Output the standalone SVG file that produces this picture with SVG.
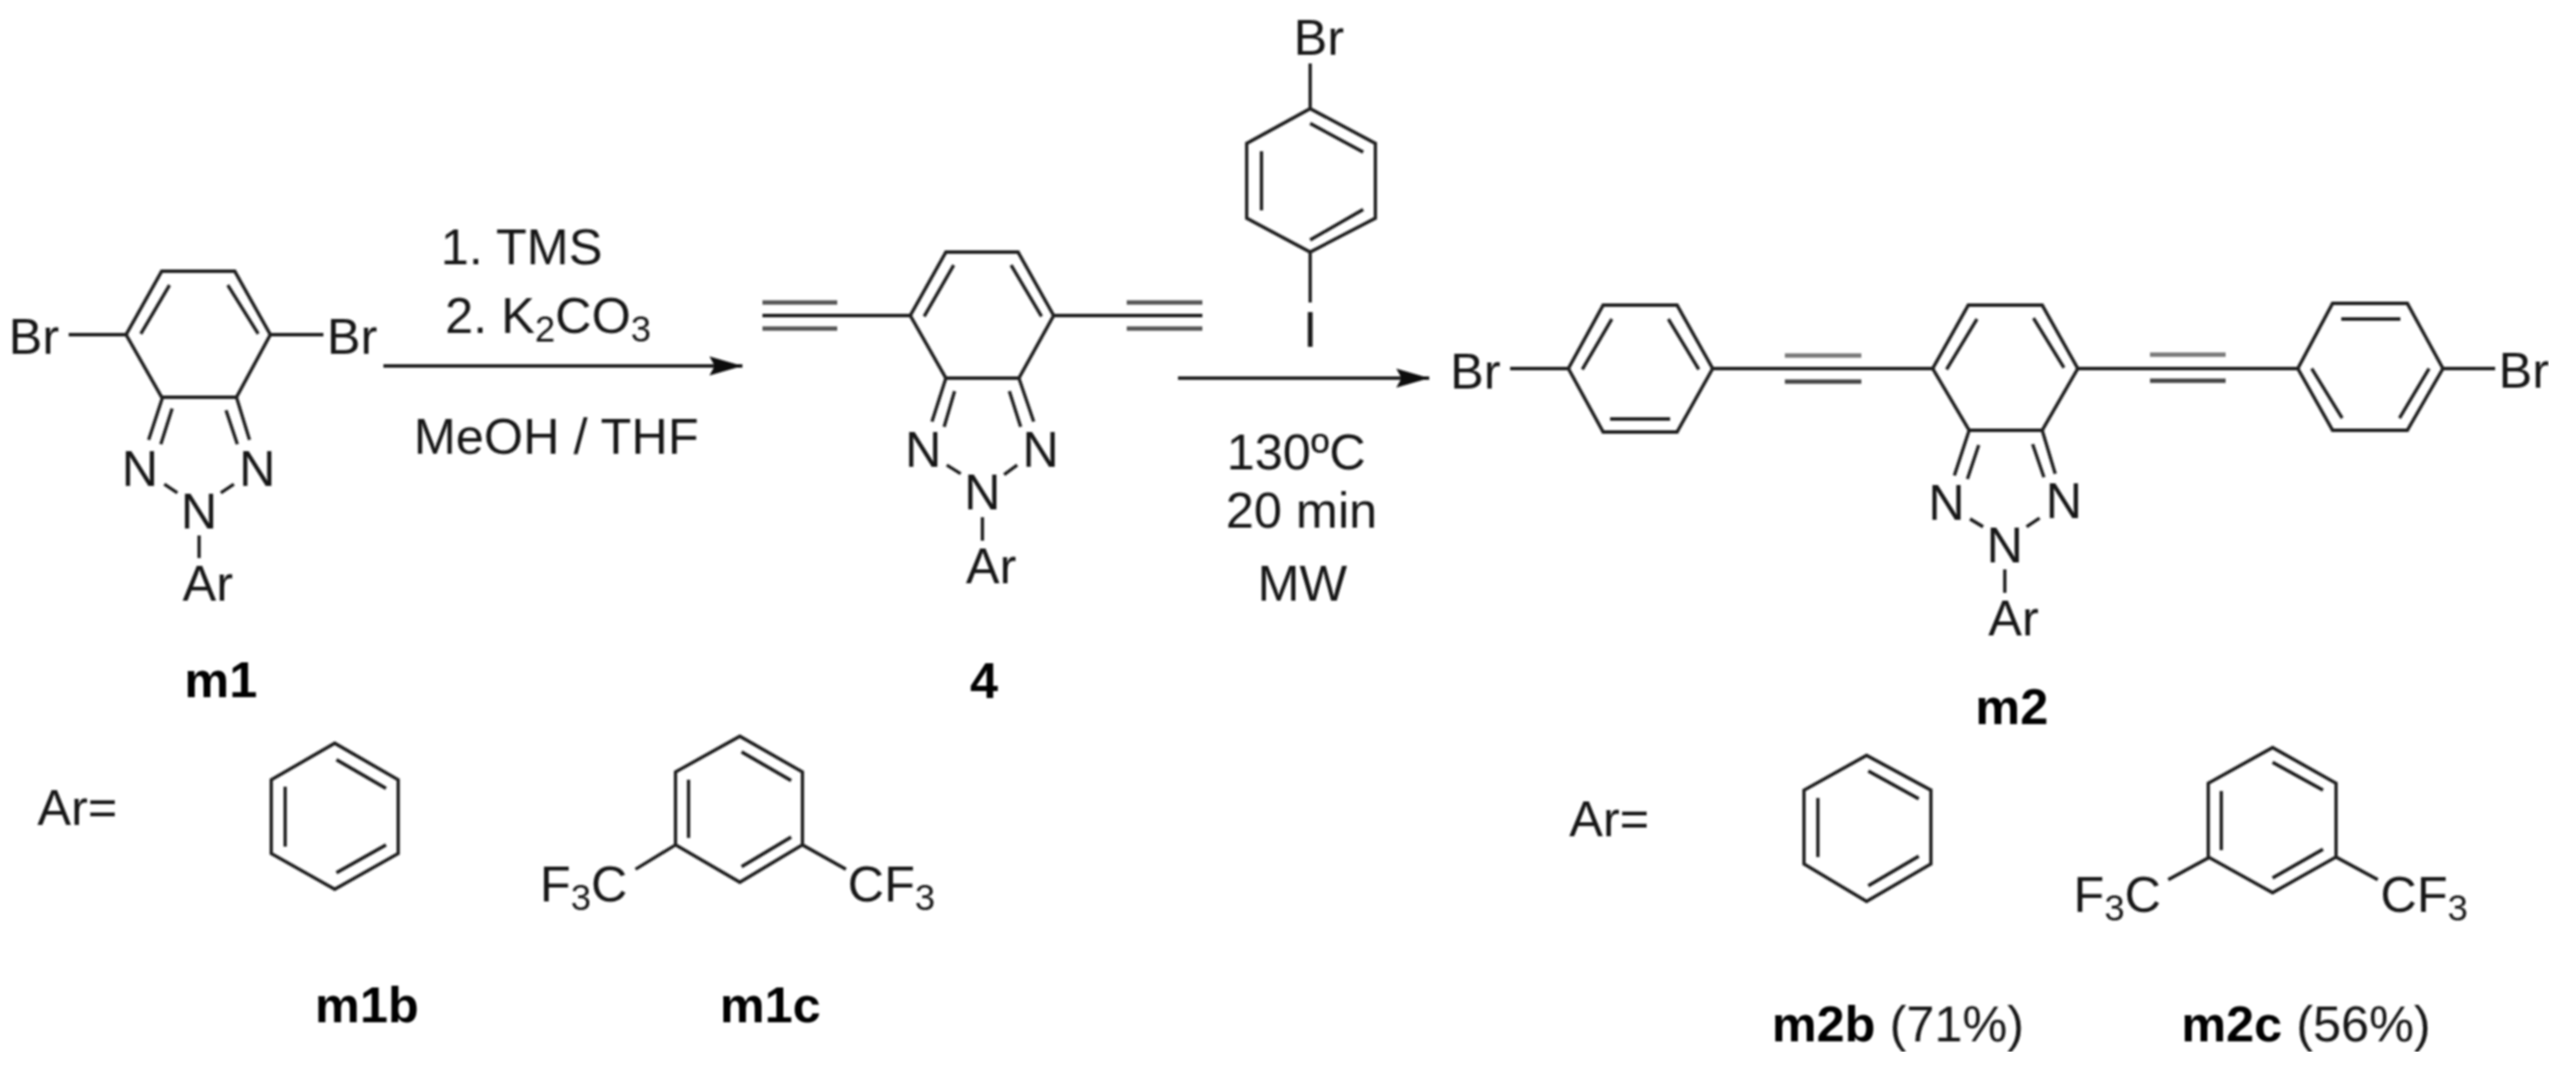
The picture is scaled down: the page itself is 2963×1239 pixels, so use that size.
<svg xmlns="http://www.w3.org/2000/svg" width="2963" height="1239" viewBox="0 0 2963 1239">
<style>
.b{fill:none;stroke:#1c1c1c;stroke-width:3.8;stroke-linejoin:miter;stroke-linecap:butt}
.g{fill:none;stroke:#555;stroke-width:5}
.g1{fill:none;stroke:#777;stroke-width:5}
.g2{fill:none;stroke:#444;stroke-width:5}
.t{font-family:"Liberation Sans",Arial,sans-serif;font-size:58px;fill:#151515}
.m{text-anchor:middle}
.h{font-weight:700;fill:#000}
.s{font-size:42px}
</style>
<defs>
<marker id="ah" markerUnits="userSpaceOnUse" markerWidth="40" markerHeight="24" refX="38" refY="12" orient="auto"><path d="M0 1 L38 12 L0 23 L6 12 Z" fill="#111"/></marker>
<filter id="soft" x="0" y="0" width="100%" height="100%"><feGaussianBlur stdDeviation="0.8"/></filter>
</defs>
<rect width="2963" height="1239" fill="#fff"/>
<g filter="url(#soft)">
<g id="connectors">
<path class="b" d="M441 421H854" marker-end="url(#ah)"/>
<path class="b" d="M1355 435H1644" marker-end="url(#ah)"/>
</g>
<g id="node-m1">
<path class="b" d="M145 385L186 312H270L311 385L272 457H186ZM195 328L162 384M262 328L297 384M187 457L171 506M198 470L185 511M272 457L287 506M260 472L273 511M79 385H145M311 385H372M189 557L204 567M254 567L269 557M229 616V642"/>
<text class="t" x="10" y="407">Br</text><text class="t" x="376" y="407">Br</text>
<text class="t m" x="161" y="559">N</text><text class="t m" x="296" y="559">N</text><text class="t m" x="229" y="608">N</text>
<text class="t" x="210" y="691">Ar</text>
<text class="t h m" x="254" y="802">m1</text>
</g>
<g id="node-reagent1">
<text class="t" x="507" y="304">1. TMS</text>
<text class="t" x="512" y="383">2. K<tspan class="s" dy="10">2</tspan><tspan dy="-10">CO</tspan><tspan class="s" dy="10">3</tspan></text>
<text class="t" x="476" y="522">MeOH / THF</text>
</g>
<g id="node-ar-left">
<text class="t" x="43" y="949">Ar=</text>
</g>
<g id="node-m1b">
<path class="b" d="M385 855L458 897V982L385 1023L312 982V897ZM387 874L444 907M328 905V974M387 1004L444 972"/>
<text class="t h m" x="422" y="1176">m1b</text>
</g>
<g id="node-m1c">
<path class="b" d="M851 847L923 888V972L851 1015L777 972V888ZM853 865L910 898M792 897V964M853 997L910 963M777 972L731 1000M923 972L973 1000"/>
<text class="t" x="621" y="1037">F<tspan class="s" dy="10">3</tspan><tspan dy="-10">C</tspan></text>
<text class="t" x="975" y="1037">CF<tspan class="s" dy="10">3</tspan></text>
<text class="t h m" x="886" y="1176">m1c</text>
</g>
<g id="node-4">
<path class="b" d="M1047 363L1088 290H1171L1212 363L1172 435H1088ZM1097 305L1063 364M1163 305L1198 364M877 363H1047M1212 363H1383M1088 435L1072 485M1098 450L1086 491M1172 435L1189 485M1161 450L1174 491M1089 535L1105 545M1155 546L1170 535M1130 595V622"/>
<path class="g" d="M877 348H963M877 378H963M1296 348H1383M1296 378H1383"/>
<text class="t m" x="1062" y="537">N</text><text class="t m" x="1197" y="537">N</text><text class="t m" x="1130" y="586">N</text>
<text class="t" x="1111" y="671">Ar</text>
<text class="t h m" x="1132" y="803">4</text>
</g>
<g id="node-reagent2">
<path class="b" d="M1507 125L1582 165V251L1507 290L1434 251V165ZM1507 142L1568 175M1451 174V242M1507 276L1568 241M1507 73V125M1507 290V348"/>
<text class="t" x="1488" y="63">Br</text>
<text class="t m" x="1507" y="399">I</text>
<text class="t m" x="1491" y="540">130ºC</text>
<text class="t m" x="1497" y="607">20 min</text>
<text class="t m" x="1498" y="691">MW</text>
</g>
<g id="node-m2">
<path class="b" d="M1804 424L1844 351H1929L1970 424L1929 497H1844ZM1854 367L1820 425M1919 367L1954 425M1852 482H1921M1737 424H1804M1970 424H2223M2223 424L2264 351H2349L2390 424L2349 495H2265ZM2274 367L2239 425M2339 366L2374 423M2390 424H2643M2643 424L2683 349H2769L2810 424L2769 495H2683ZM2693 367H2761M2659 424L2694 481M2794 424L2760 481M2810 424H2870M2265 495L2248 547M2276 512L2263 551M2349 495L2364 545M2338 511L2351 549M2266 597L2281 606M2331 606L2346 596M2306 655V682"/>
<path class="g1" d="M2053 409H2141M2473 408H2560"/>
<path class="g2" d="M2053 439H2141M2473 438H2560"/>
<text class="t" x="1668" y="447">Br</text><text class="t" x="2874" y="446">Br</text>
<text class="t m" x="2239" y="598">N</text><text class="t m" x="2374" y="596">N</text><text class="t m" x="2306" y="647">N</text>
<text class="t" x="2287" y="731">Ar</text>
<text class="t h m" x="2314" y="833">m2</text>
</g>
<g id="node-ar-right">
<text class="t" x="1805" y="962">Ar=</text>
</g>
<g id="node-m2b">
<path class="b" d="M2147 869L2221 909V994L2147 1037L2075 994V909ZM2149 887L2207 919M2091 918V986M2149 1019L2207 985"/>
<text class="t" x="2038" y="1198"><tspan class="h">m2b</tspan> (71%)</text>
</g>
<g id="node-m2c">
<path class="b" d="M2614 860L2687 901V986L2614 1027L2540 986V901ZM2614 877L2672 909M2555 910V978M2614 1010L2672 977M2540 987L2494 1012M2687 986L2735 1012"/>
<text class="t" x="2385" y="1049">F<tspan class="s" dy="10">3</tspan><tspan dy="-10">C</tspan></text>
<text class="t" x="2738" y="1049">CF<tspan class="s" dy="10">3</tspan></text>
<text class="t" x="2509" y="1198"><tspan class="h">m2c</tspan> (56%)</text>
</g>
</g>
</svg>
